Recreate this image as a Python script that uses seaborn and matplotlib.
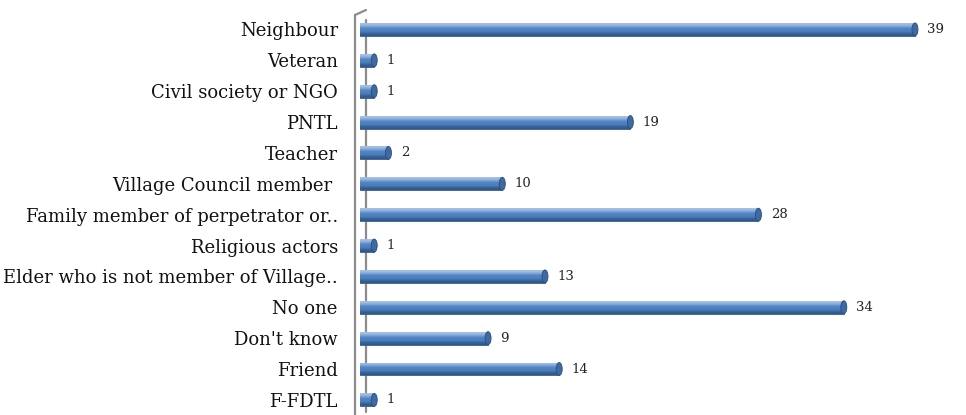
import numpy as np
import matplotlib
matplotlib.use("Agg")
import matplotlib.pyplot as plt
import matplotlib.transforms as mtransforms
from matplotlib.patches import Ellipse
import seaborn as sns
import pandas as pd

categories = ["Neighbour", "Veteran", "Civil society or NGO", "PNTL", "Teacher",
              "Village Council member ", "Family member of perpetrator or..",
              "Religious actors", "Elder who is not member of Village..",
              "No one", "Don't know", "Friend", "F-FDTL"]
counts = [39, 1, 1, 19, 2, 10, 28, 1, 13, 34, 9, 14, 1]

df = pd.DataFrame({"who": categories, "n": counts})

sns.set_style("white")
plt.rcParams["font.family"] = ["DejaVu Serif"]

W, H = 966, 415
fig = plt.figure(figsize=(W / 100, H / 100), dpi=100)
ax = fig.add_axes([360 / W, 0, (950 - 360) / W, 405 / H])

sns.barplot(data=df, y="who", x="n", orient="h", width=0.42,
            color="#4f81bd", saturation=1, edgecolor="#385d8a",
            linewidth=0.6, ax=ax)

# cylinder-ish shading on every bar
grad = np.array([[0.0], [0.3], [0.6], [1.0]])
cmap = matplotlib.colors.LinearSegmentedColormap.from_list(
    "cyl", ["#a9c2e4", "#5286c6", "#4a7cb9", "#2f5689"])
for p in ax.patches[:]:
    x0, y0, w, h = p.get_x(), p.get_y(), p.get_width(), p.get_height()
    im = ax.imshow(grad, cmap=cmap, aspect="auto", interpolation="bicubic",
                   extent=[x0, x0 + w, y0 + h, y0],
                   zorder=p.get_zorder() + 0.1)
    im.set_clip_path(p)
    cap = Ellipse((x0 + w, y0 + h / 2), 0.42, h, facecolor="#3d6aa3",
                  edgecolor="#2c4d78", lw=0.6, zorder=p.get_zorder() + 0.2)
    ax.add_patch(cap)

for i, v in enumerate(counts):
    ax.annotate(str(v), (v, i), xytext=(9, 0), textcoords="offset points",
                va="center", ha="left", fontsize=9.5, color="#222222")

ax.set_xlim(0, (950 - 360) / 14.23)
ax.set_ylim(12.49, -0.63)
ax.set_xlabel("")
ax.set_ylabel("")
ax.set_xticks([])
ax.tick_params(axis="y", length=0, pad=16, labelsize=13, labelcolor="#111111")
for s in ax.spines.values():
    s.set_visible(False)

# back wall of the 3D chart
px = mtransforms.ScaledTranslation
left = ax.transAxes + px(-5 / 100, 0, fig.dpi_scale_trans)
right = ax.transAxes + px(6 / 100, 0, fig.dpi_scale_trans)
ax.plot([0, 0], [0, 1 - 5 / 405], color="#8c8c8c", lw=1.6, transform=left, clip_on=False)
ax.plot([0, 0], [3 / 405, 1 - 10 / 405], color="#8c8c8c", lw=1.6, transform=right, clip_on=False, zorder=0.5)
ax.plot([-11 / 590, 0], [1 - 5 / 405, 1], color="#8c8c8c", lw=1.6,
        transform=right, clip_on=False)

fig.savefig("out.png", dpi=100)
